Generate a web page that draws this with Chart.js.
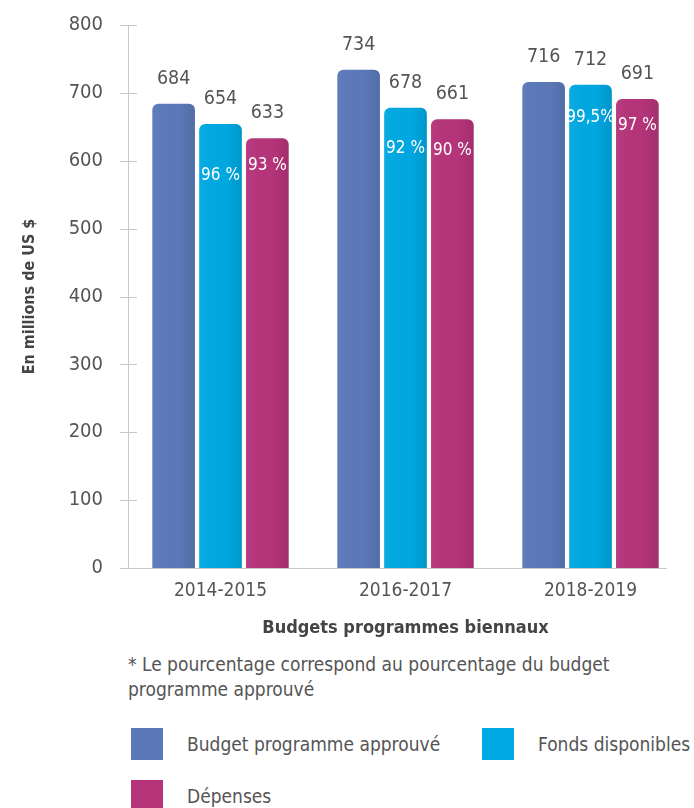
<!DOCTYPE html>
<html lang="fr">
<head>
<meta charset="utf-8">
<script src="https://cdn.jsdelivr.net/npm/chart.js@4.4.1/dist/chart.umd.min.js"></script>
<style>
  html, body { margin: 0; padding: 0; background: #ffffff; }
  body { width: 694px; height: 808px; overflow: hidden; position: relative;
         font-family: 'DejaVu Sans Condensed', 'Roboto', sans-serif; color: #555555; }
  #wrap { position: absolute; left: 0; top: -12px; width: 694px; height: 657px; }
  .note { position: absolute; left: 128px; top: 652px; font-size: 19px; line-height: 25px; width: 540px; }
  .item { position: absolute; font-size: 19px; line-height: 32px; display: flex; align-items: center; white-space: nowrap; }
  .sw { width: 32px; height: 32px; margin-right: 24px; flex: none; }
</style>
</head>
<body>
<div id="wrap"><canvas id="chart" width="694" height="657"></canvas></div>
<div class="note">* Le pourcentage correspond au pourcentage du budget programme approuvé</div>
<div id="legend"></div>
<script>
// Biennial programme budgets (millions of US $)
const periods = ['2014-2015', '2016-2017', '2018-2019'];
const seriesNames = ['Budget programme approuvé', 'Fonds disponibles', 'Dépenses'];
const approvedBudget = [684, 734, 716];
const availableFunds = [654, 678, 712];
const expenditures = [633, 661, 691];
// share of the approved budget, shown inside the bars
const fundsPctLabels = ['96 %', '92 %', '99,5%'];
const spentPctLabels = ['93 %', '90 %', '97 %'];
const yTicks = [0, 100, 200, 300, 400, 500, 600, 700, 800];

const colors = ['#5b79b9', '#00a8e1', '#b5347a'];
const FONT = "'DejaVu Sans Condensed', 'Roboto', sans-serif";
const TEXT = '#555555';

// how far below the bar top each percentage label sits (px)
const pctOffsets = [[51, 41, 33], [27, 31, 27]];

const legendEl = document.getElementById('legend');
const legendPos = [[131, 728], [482, 728], [131, 780]];
seriesNames.forEach((name, i) => {
  const d = document.createElement('div');
  d.className = 'item';
  d.style.left = legendPos[i][0] + 'px';
  d.style.top = legendPos[i][1] + 'px';
  d.innerHTML = '<span class="sw" style="background:' + colors[i] + '"></span><span>' + name + '</span>';
  legendEl.appendChild(d);
});

const barLabels = {
  id: 'barLabels',
  afterDatasetsDraw(chart) {
    const ctx = chart.ctx;
    ctx.save();
    chart.data.datasets.forEach((ds, di) => {
      const meta = chart.getDatasetMeta(di);
      meta.data.forEach((bar, i) => {
        const w = bar.width, x0 = bar.x - w / 2, top = bar.y, bottom = bar.base;
        // soft shading toward the right edge
        const g = ctx.createLinearGradient(x0, 0, x0 + w, 0);
        g.addColorStop(0, 'rgba(255,255,255,0.04)');
        g.addColorStop(0.6, 'rgba(0,0,0,0)');
        g.addColorStop(1, 'rgba(0,0,0,0.10)');
        ctx.fillStyle = g;
        ctx.beginPath();
        ctx.roundRect(x0, top, w, bottom - top, [6, 6, 0, 0]);
        ctx.fill();
        // value above the bar
        ctx.fillStyle = TEXT;
        ctx.font = '19.5px ' + FONT;
        ctx.textAlign = 'center';
        ctx.textBaseline = 'alphabetic';
        ctx.fillText(String(ds.data[i]), bar.x, top - 20);
        // percentage inside the bar
        const pct = di === 1 ? fundsPctLabels[i] : di === 2 ? spentPctLabels[i] : null;
        if (pct) {
          ctx.fillStyle = '#ffffff';
          ctx.font = '17px ' + FONT;
          ctx.textBaseline = 'middle';
          ctx.fillText(pct, bar.x, top + pctOffsets[di - 1][i]);
        }
      });
    });
    ctx.restore();
  }
};

const axisLines = {
  id: 'axisLines',
  afterDraw(chart) {
    const ctx = chart.ctx, a = chart.chartArea, y = chart.scales.y;
    ctx.save();
    ctx.strokeStyle = '#c8c8c8';
    ctx.lineWidth = 1;
    ctx.beginPath();
    ctx.moveTo(a.left + 0.5, y.getPixelForValue(800));
    ctx.lineTo(a.left + 0.5, a.bottom);
    ctx.moveTo(a.left - 7, a.bottom + 0.5);
    ctx.lineTo(a.right - 16, a.bottom + 0.5);
    yTicks.forEach(v => {
      const py = Math.round(y.getPixelForValue(v)) + 0.5;
      ctx.moveTo(a.left - 8, py);
      ctx.lineTo(a.left + 9, py);
    });
    ctx.stroke();
    ctx.restore();
  }
};

new Chart(document.getElementById('chart'), {
  type: 'bar',
  data: {
    labels: periods,
    datasets: [approvedBudget, availableFunds, expenditures].map((d, i) => ({
      label: seriesNames[i],
      data: d,
      backgroundColor: colors[i],
      borderRadius: { topLeft: 6, topRight: 6, bottomLeft: 0, bottomRight: 0 },
      borderSkipped: 'start',
      categoryPercentage: 0.76,
      barPercentage: 0.91
    }))
  },
  options: {
    responsive: false,
    animation: false,
    devicePixelRatio: 1,
    layout: { padding: { top: 13, right: 11, left: 0, bottom: 0 } },
    plugins: { legend: { display: false }, tooltip: { enabled: false } },
    scales: {
      x: {
        grid: { display: false, drawTicks: false },
        border: { display: false },
        ticks: { color: TEXT, font: { family: FONT, size: 19 }, padding: 12 },
        title: { display: true, text: 'Budgets programmes biennaux', color: '#444444',
                 font: { family: FONT, size: 18, weight: 'bold' }, padding: { top: 4, bottom: 6 } },
        afterFit(s) { s.height = 77; }
      },
      y: {
        min: 0, max: 800,
        afterBuildTicks(s) { s.ticks = yTicks.map(v => ({ value: v })); },
        grid: { display: false, drawTicks: false },
        border: { display: false },
        ticks: { color: TEXT, font: { family: FONT, size: 20 }, padding: 25 },
        title: { display: true, text: 'En millions de US $', color: '#444444',
                 font: { family: FONT, size: 16, weight: 'bold' }, padding: { top: 20, bottom: 0 } },
        afterFit(s) { s.width = 128; }
      }
    }
  },
  plugins: [barLabels, axisLines]
});
</script>
</body>
</html>
